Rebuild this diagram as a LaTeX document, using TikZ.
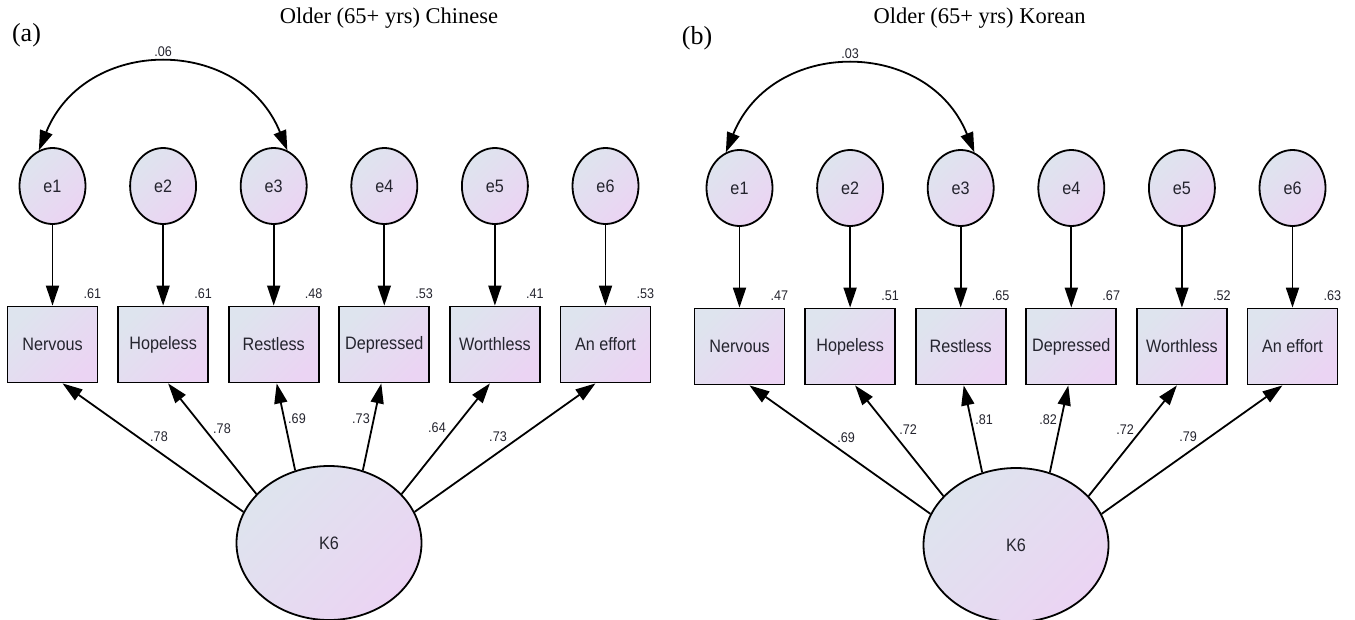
\documentclass[tikz,border=0pt]{standalone}
\usepackage{fontspec}
\setmainfont{Liberation Serif}
\setsansfont{Liberation Sans}
\newfontfamily\semsans[FakeStretch=0.9]{Liberation Sans}
\usetikzlibrary{positioning,arrows.meta,shapes.geometric}

\definecolor{semleft}{HTML}{DEE4EE}
\definecolor{semright}{HTML}{EBD4F3}
\definecolor{semtext}{HTML}{24242E}

\tikzset{
    semfill/.style={top color=semleft, bottom color=semright, shading angle=45},
    errnode/.style={ellipse, draw, semfill, line width=1.8pt, minimum width=66pt,
        minimum height=76pt, inner sep=0pt, text=semtext,
        font=\semsans\fontsize{18}{18}\selectfont},
    obsnode/.style={rectangle, draw, semfill, line width=1.8pt, minimum width=90pt,
        minimum height=76pt, inner sep=0pt, text=semtext,
        font=\semsans\fontsize{18}{18}\selectfont},
    latnode/.style={ellipse, draw, semfill, line width=1.8pt, minimum width=185pt,
        minimum height=154pt, inner sep=0pt, text=semtext,
        font=\semsans\fontsize{18}{18}\selectfont},
    coefnode/.style={inner sep=0pt, text=semtext, font=\semsans\fontsize{14}{14}\selectfont},
    ttlnode/.style={inner sep=0pt, font=\fontsize{22.5}{22.5}\selectfont},
    tagnode/.style={inner sep=0pt, font=\fontsize{26}{26}\selectfont},
    semarrow/.style={line width=1.8pt, -{Triangle[length=20pt,width=13pt]}},
    semboth/.style={line width=1.8pt, {Triangle[length=20pt,width=13pt]}-{Triangle[length=20pt,width=13pt]}}
}

\begin{document}
\begin{tikzpicture}[x=1pt,y=-1pt]
    \useasboundingbox (0,0) rectangle (1355,619);
    % headings
    \node[tagnode] (atag) at (26.5,35) {(a)};
    \node[ttlnode] (atitle) at (389,18) {Older (65+ yrs) Chinese};
    \node[tagnode] (btag) at (697,38) {(b)};
    \node[ttlnode] (btitle) at (979.5,18) {Older (65+ yrs) Korean};

    % panel (a)
    \node[latnode] (aK6) at (329,543) {K6};
    \foreach \i/\txt/\var/\ang/\off/\coef/\cx/\cy in {1/Nervous/.61/160/10/.78/159/437,
            2/Hopeless/.61/146/5/.78/222/429, 3/Restless/.48/115/3/.69/297/419,
            4/Depressed/.53/65/-3/.73/361/419, 5/Worthless/.41/34/-5/.64/437/428,
            6/An effort/.53/20/-10/.73/498/437}{
        \node[errnode] (ae\i) at ({52.5+110.6*(\i-1)},186) {e\i};
        \node[obsnode] (ao\i) at ({52.5+110.6*(\i-1)},344.5) {\txt};
        \draw[semarrow] (ae\i) -- (ao\i);
        \draw[semarrow] (aK6.\ang) -- ([xshift=\off pt]ao\i.south);
        \node[coefnode, anchor=base east] (av\i) at ([xshift=3pt,yshift=7pt]ao\i.north east) {\var};
        \node[coefnode] (ac\i) at (\cx,\cy) {\coef};
    }
    \draw[semboth] (ae1.111) .. controls +(68:124pt) and +(112:124pt) .. (ae3.69)
        node[coefnode, pos=0.5, above=7pt] (acov) {.06};

    % panel (b)
    \begin{scope}[shift={(687,2)}]
        \node[latnode] (bK6) at (329,543) {K6};
        \foreach \i/\txt/\var/\ang/\off/\coef/\cx/\cy in {1/Nervous/.47/160/10/.69/159/436,
                2/Hopeless/.51/146/5/.72/221/428, 3/Restless/.65/115/3/.81/297/418,
                4/Depressed/.67/65/-3/.82/361/418, 5/Worthless/.52/34/-5/.72/438/428,
                6/An effort/.63/20/-10/.79/501/435}{
            \node[errnode] (be\i) at ({52.5+110.6*(\i-1)},186) {e\i};
            \node[obsnode] (bo\i) at ({52.5+110.6*(\i-1)},344.5) {\txt};
            \draw[semarrow] (be\i) -- (bo\i);
            \draw[semarrow] (bK6.\ang) -- ([xshift=\off pt]bo\i.south);
            \node[coefnode, anchor=base east] (bv\i) at ([xshift=3pt,yshift=7pt]bo\i.north east) {\var};
            \node[coefnode] (bc\i) at (\cx,\cy) {\coef};
        }
        \draw[semboth] (be1.111) .. controls +(68:124pt) and +(112:124pt) .. (be3.69)
            node[coefnode, pos=0.5, above=7pt] (bcov) {.03};
    \end{scope}
\end{tikzpicture}
\end{document}
